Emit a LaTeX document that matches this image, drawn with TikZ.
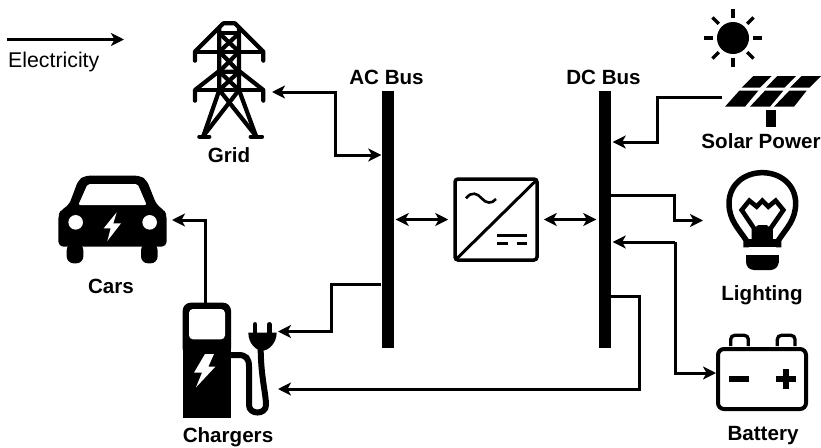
\documentclass[tikz,border=0pt]{standalone}
\usepackage{fontspec}
\setmainfont{Liberation Sans}
\usetikzlibrary{arrows.meta}
\tikzset{
  tipshape/.tip={Stealth[length=13pt,width=13pt,inset=3.5pt]},
  wire/.style={line width=3pt,draw=black,-tipshape},
  wirex/.style={line width=3pt,draw=black,tipshape-tipshape},
  busbar/.style={fill=black,draw=none,minimum width=12pt,minimum height=257pt,inner sep=0pt},
  lbl/.style={font=\fontsize{20.6}{20}\selectfont\bfseries,inner sep=0pt,text height=15pt,text depth=4pt},
  zoomed/.style={x=.33333pt,y=-.33333pt},
}
\begin{document}
\begin{tikzpicture}[x=1pt,y=-1pt]
\useasboundingbox (0,0) rectangle (821,447);
% legend
\coordinate (legA) at (7,39.5);
\coordinate (legB) at (124,39.5);
\draw[wire,line width=3.5pt] (legA) -- (legB);
\node[anchor=west,inner sep=0pt,font=\fontsize{21.3}{20}\selectfont] (legT) at (8,62) {Electricity};
% buses
\node[busbar] (ac) at (387.5,219.5) {};
\node[busbar] (dc) at (604.5,219.5) {};
\node[lbl] (acl) at (386.5,78.5) {AC Bus};
\node[lbl] (dcl) at (603.5,78.5) {DC Bus};
% inverter
\node[draw=black,line width=3.5pt,rounded corners=3pt,minimum width=82pt,minimum height=81pt,inner sep=0pt] (inv) at (496,219.5) {};
\begin{scope}[shift={(440,165)},zoomed]
\draw[line width=3pt] (48,283) -- (290,45);
\draw[line width=2.6pt] (78,100) .. controls (95,78) and (112,85) .. (125,100) .. controls (138,115) and (155,118) .. (168,102);
\draw[line width=3pt] (172,212) -- (262,212) (172,236) -- (205,236) (230,236) -- (262,236);
\end{scope}
% grid icon
\coordinate (gridP) at (272,92);
\begin{scope}[shift={(170,10)},zoomed,line width=4.2pt,line join=round]
\draw[line cap=round] (75,152) -- (75,125) -- (160,40) -- (195,40) -- (280,125) -- (280,152);
\draw (75,125) -- (280,125);
\draw[line cap=round] (75,272) -- (75,240) -- (145,185) -- (210,185) -- (280,240) -- (280,272);
\draw (75,240) -- (280,240);
\draw (148,50) -- (148,240) -- (100,378);
\draw (207,50) -- (207,240) -- (258,378);
\draw (148,70) -- (207,70);
\draw (148,70) -- (207,125) -- (148,185) -- (207,240) -- (100,378);
\draw (207,70) -- (148,125) -- (207,185) -- (148,240) -- (258,378);
\draw[line cap=round] (88,380) -- (118,380) (242,380) -- (276,380);
\end{scope}
\node[lbl] (gridl) at (229,157) {Grid};
% sun
\fill (733,38) circle (16);
\foreach \a in {0,45,...,315}{\draw[line width=3.2pt] (733,38)++(\a:20) -- ++(\a:9);}
% solar panel
\coordinate (solP) at (722,97);
\begin{scope}[shift={(690,0)},zoomed]
\fill (190,228) -- (245,228) -- (210,263) -- (155,263) -- cycle;
\fill (262,228) -- (318,228) -- (283,263) -- (228,263) -- cycle;
\fill (335,228) -- (393,228) -- (358,263) -- (300,263) -- cycle;
\fill (148,272) -- (205,272) -- (165,320) -- (105,320) -- cycle;
\fill (225,272) -- (280,272) -- (240,320) -- (180,320) -- cycle;
\fill (298,272) -- (350,272) -- (312,320) -- (252,320) -- cycle;
\fill (228,330) rectangle (257,380);
\end{scope}
\node[lbl] (soll) at (761,143) {Solar Power};
% bulb
\coordinate (bulbA) at (703,220.5);
\coordinate (bulbB) at (675,242);
\begin{scope}[shift={(700,160)},zoomed]
\draw[line width=5.5pt] (138,262) -- (138,240) .. controls (115,205) and (87,180) .. (87,130) .. controls (87,75) and (132,38) .. (187,38) .. controls (242,38) and (287,75) .. (287,130) .. controls (287,180) and (259,205) .. (236,240) -- (236,262);
\draw[line width=4.6pt,line join=miter] (162,245) -- (162,205) -- (125,150) -- (148,122) -- (170,140) -- (187,122) -- (205,140) -- (227,122) -- (250,150) -- (212,205) -- (212,245);
\fill (175,195) -- (200,195) -- (212,205) -- (212,240) -- (162,240) -- (162,205) -- cycle;
\fill (138,238) rectangle (236,262);
\fill[rounded corners=8pt] (138,285) rectangle (236,330);
\fill (138,285) rectangle (236,310);
\end{scope}
\node[lbl] (ligl) at (762,294.5) {Lighting};
% battery
\node[draw=black,line width=4pt,rounded corners=6pt,minimum width=88pt,minimum height=60pt,inner sep=0pt] (bat) at (762,379) {};
\begin{scope}[shift={(700,320)},zoomed]
\draw[line width=3.3pt,rounded corners=4pt] (92,78) -- (92,46) -- (145,46) -- (145,78);
\draw[line width=3.3pt,rounded corners=4pt] (232,78) -- (232,46) -- (285,46) -- (285,78);
\draw[line width=5.5pt] (88,177) -- (148,177) (228,177) -- (288,177) (258,147) -- (258,207);
\end{scope}
\node[lbl] (batl) at (763,435) {Battery};
% charger
\coordinate (chgA) at (278,331.5);
\coordinate (chgB) at (278,389);
\begin{scope}[shift={(170,290)},zoomed]
\fill[rounded corners=8pt] (38,200) -- (38,38) -- (183,38) -- (183,200) -- cycle;
\fill (38,150) rectangle (183,385);
\fill[white,rounded corners=4pt] (57,57) rectangle (165,148);
\fill[white] (105,192) -- (132,192) -- (115,230) -- (136,230) -- (78,292) -- (96,248) -- (72,248) -- cycle;
\draw[line width=6pt] (183,195) -- (205,195) .. controls (228,195) and (237,205) .. (237,230) -- (237,345) .. controls (237,375) and (288,375) .. (288,345) .. controls (288,310) and (272,260) .. (272,170);
\fill (235,128) -- (320,128) .. controls (320,160) and (295,182) .. (277,182) .. controls (258,182) and (235,160) .. (235,128) -- cycle;
\draw[line width=4.6pt,line cap=round] (255,103) -- (255,130) (298,103) -- (298,130);
\end{scope}
\node[lbl] (chgl) at (228,436.5) {Chargers};
% car
\coordinate (carP) at (172,220);
\begin{scope}[shift={(45,165)},zoomed]
\fill[rounded corners=5pt] (40,245) -- (40,150) -- (48,135) -- (72,120) -- (100,45) -- (120,32) -- (285,32) -- (305,45) -- (335,120) -- (357,135) -- (365,150) -- (365,245) -- cycle;
\fill[rounded corners=2pt,white] (100,120) -- (128,57) -- (278,57) -- (305,120) -- cycle;
\fill[rounded corners=7pt] (65,235) rectangle (115,295);
\fill[rounded corners=7pt] (288,235) rectangle (338,295);
\fill[white] (92,172) circle (7.3pt) (314,172) circle (7.3pt);
\fill[white] (215,142) -- (176,190) -- (197,190) -- (187,228) -- (228,175) -- (205,175) -- cycle;
\end{scope}
\node[lbl] (carl) at (111,287.5) {Cars};
% connectors
\coordinate (gridJ) at (335,92);
\coordinate (gridK) at (335,155);
\draw[wirex] (gridP) -- (gridJ) -- (gridK) -- (ac.west |- gridK);
\draw[wirex,shorten <=2pt,shorten >=5pt] (ac.east) -- (inv.west);
\draw[wirex,shorten <=5pt,shorten >=2pt] (inv.east) -- (dc.west);
\coordinate (chgJ) at (331,284);
\draw[wire] (ac.west |- chgJ) -- (chgJ) |- (chgA);
\coordinate (carJ) at (205.5,303);
\draw[wire] (carJ) |- (carP);
\coordinate (solJ) at (657,97);
\coordinate (solK) at (657,142);
\draw[wire,shorten >=2pt] (solP) -- (solJ) -- (solK) -- (dc.east |- solK);
\coordinate (ligJ) at (674,195);
\draw[wire] (dc.east |- ligJ) -- (ligJ) |- (bulbA);
\coordinate (batK) at (675,373);
\draw[wire,shorten >=2pt] (bulbB) -- (dc.east |- bulbB);
\draw[wire] (bulbB) -- (batK) -- (bat.west |- batK);
\coordinate (chgJ2) at (639,296);
\draw[wire] (dc.east |- chgJ2) -- (chgJ2) |- (chgB);
\end{tikzpicture}
\end{document}
